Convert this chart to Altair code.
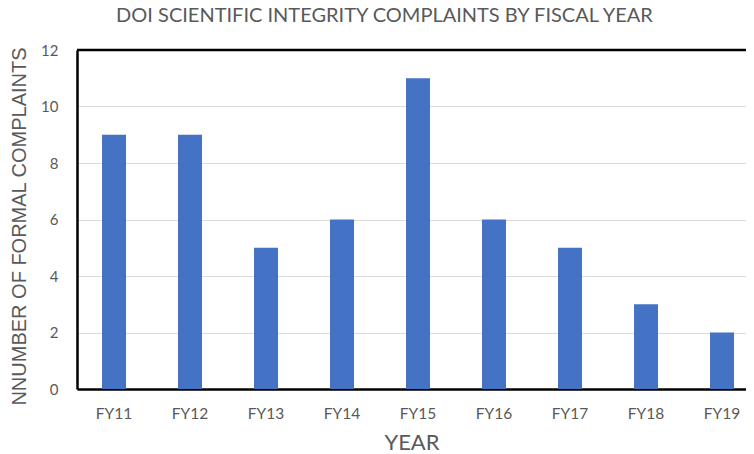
import altair as alt
import pandas as pd

years = ["FY11", "FY12", "FY13", "FY14", "FY15", "FY16", "FY17", "FY18", "FY19"]
complaints = [9, 9, 5, 6, 11, 6, 5, 3, 2]
y_ticks = [0, 2, 4, 6, 8, 10, 12]
y_max = 12

df = pd.DataFrame({"year": years, "complaints": complaints})
top_df = pd.DataFrame({"top": [y_max]})

GRAY = "#595959"

x_enc = alt.X(
    "year:N",
    sort=years,
    scale=alt.Scale(paddingInner=0.684, paddingOuter=0.2434, align=0.676),
    axis=alt.Axis(
        title="YEAR",
        labelAngle=0,
        domain=True,
        domainColor="black",
        domainWidth=2.5,
        ticks=False,
        labelPadding=17,
        labelFont="Lato",
        labelFontSize=15.5,
        labelColor=GRAY,
        titleFont="Lato",
        titleFontSize=22,
        titleFontWeight="normal",
        titleColor=GRAY,
        titleBaseline="middle",
        titleY=53,
    ),
)

y_enc = alt.Y(
    "complaints:Q",
    scale=alt.Scale(domain=[0, y_max], nice=False),
    axis=alt.Axis(
        title="NNUMBER OF FORMAL COMPLAINTS",
        values=y_ticks,
        domain=True,
        domainColor="black",
        domainWidth=2.5,
        ticks=False,
        labelPadding=19,
        labelFont="Lato",
        labelFontSize=15,
        labelColor=GRAY,
        gridColor="#D9D9D9",
        gridWidth=1,
        titleFont="Liberation Sans",
        titleFontSize=20,
        titleFontWeight="normal",
        titleColor=GRAY,
        titleBaseline="middle",
        titleX=-58,
        titleY=176,
    ),
)

bars = alt.Chart(df).mark_bar(color="#4472C4").encode(x=x_enc, y=y_enc)

top_line = (
    alt.Chart(top_df)
    .mark_rule(color="black", strokeWidth=2.5)
    .encode(y=alt.Y("top:Q"))
)

chart = (
    alt.layer(bars, top_line)
    .properties(
        width=669,
        height=339,
        title=alt.TitleParams(
            "DOI SCIENTIFIC INTEGRITY COMPLAINTS BY FISCAL YEAR",
            font="Lato",
            fontSize=20,
            fontWeight="normal",
            color=GRAY,
            anchor="middle",
            dx=-27,
            offset=17,
        ),
        autosize=alt.AutoSizeParams(type="none"),
        padding={"left": 69, "top": 42, "right": 0, "bottom": 65},
    )
    .configure_view(stroke=None)
)

chart.save("out.html", embed_options={"renderer": "svg", "actions": False})
